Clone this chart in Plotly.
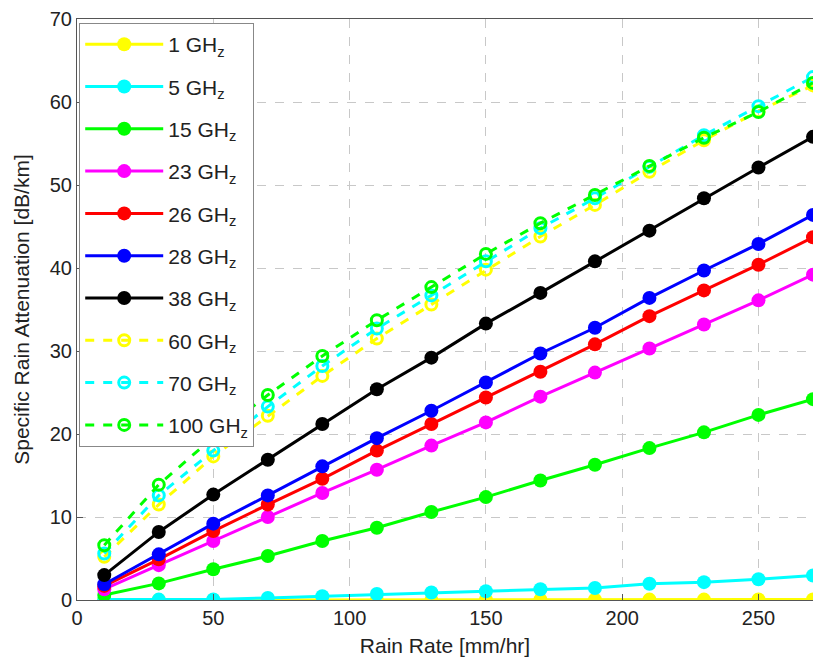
import plotly.graph_objects as go

rain_rate = [10, 30, 50, 70, 90, 110, 130, 150, 170, 190, 210, 230, 250, 270]

att_1ghz = [0.0, 0.0, 0.0, 0.01, 0.01, 0.02, 0.02, 0.03, 0.03, 0.04, 0.05, 0.05, 0.06, 0.07]
att_5ghz = [0.05, 0.05, 0.06, 0.25, 0.45, 0.72, 0.9, 1.05, 1.3, 1.45, 1.95, 2.15, 2.5, 2.95]
att_15ghz = [0.6, 2.0, 3.7, 5.3, 7.1, 8.7, 10.6, 12.4, 14.4, 16.3, 18.3, 20.2, 22.3, 24.2]
att_23ghz = [1.3, 4.2, 7.1, 10.0, 12.9, 15.7, 18.6, 21.4, 24.5, 27.4, 30.3, 33.2, 36.1, 39.2]
att_26ghz = [1.7, 4.9, 8.3, 11.5, 14.6, 18.0, 21.2, 24.4, 27.5, 30.8, 34.2, 37.3, 40.4, 43.7]
att_28ghz = [1.9, 5.5, 9.2, 12.6, 16.1, 19.5, 22.8, 26.2, 29.7, 32.8, 36.4, 39.7, 42.9, 46.4]
att_38ghz = [3.0, 8.2, 12.7, 16.9, 21.2, 25.4, 29.2, 33.3, 37.0, 40.8, 44.5, 48.4, 52.1, 55.8]
att_60ghz = [5.2, 11.5, 17.3, 22.2, 27.0, 31.5, 35.6, 39.8, 43.8, 47.6, 51.6, 55.4, 58.9, 62.0]
att_70ghz = [5.6, 12.6, 18.0, 23.3, 28.2, 32.7, 36.7, 40.8, 44.8, 48.4, 52.2, 56.0, 59.5, 63.0]
att_100ghz = [6.6, 13.9, 19.6, 24.7, 29.4, 33.7, 37.7, 41.7, 45.4, 48.8, 52.3, 55.7, 58.8, 62.3]

series_names = ["1 GH<sub>z</sub>", "5 GH<sub>z</sub>", "15 GH<sub>z</sub>", "23 GH<sub>z</sub>",
                "26 GH<sub>z</sub>", "28 GH<sub>z</sub>", "38 GH<sub>z</sub>", "60 GH<sub>z</sub>",
                "70 GH<sub>z</sub>", "100 GH<sub>z</sub>"]
series_values = [att_1ghz, att_5ghz, att_15ghz, att_23ghz, att_26ghz, att_28ghz, att_38ghz,
                 att_60ghz, att_70ghz, att_100ghz]
series_colors = ["#ffff00", "#00ffff", "#00ff00", "#ff00ff", "#ff0000", "#0000ff", "#000000",
                 "#ffff00", "#00ffff", "#00ff00"]
series_dashed = [False] * 7 + [True] * 3

x_ticks = [0, 50, 100, 150, 200, 250]
y_ticks = [0, 10, 20, 30, 40, 50, 60, 70]

FONT = "Liberation Sans, Arial, sans-serif"
TXT = "#222222"

fig = go.Figure()
for i, (name, vals, col, dashed) in enumerate(zip(series_names, series_values, series_colors, series_dashed)):
    if dashed:
        fig.add_trace(go.Scatter(
            x=rain_rate, y=vals, name=name, mode="lines+markers", legendgroup=f"g{i}",
            line=dict(color=col, width=3, dash="dash"),
            marker=dict(symbol="circle-open", size=11, color=col, line=dict(width=3, color=col)),
        ))
    else:
        fig.add_trace(go.Scatter(
            x=rain_rate, y=vals, name=name, mode="lines+markers", legendgroup=f"g{i}",
            line=dict(color=col, width=3),
            marker=dict(symbol="circle", size=14, color=col),
        ))

axis_common = dict(
    showline=True, linecolor="#555555", linewidth=1, mirror=True,
    showgrid=True, gridcolor="#c8c8c8", griddash="dash", gridwidth=1,
    zeroline=False, ticks="inside", ticklen=6, tickcolor="#555555",
    tickfont=dict(family=FONT, size=20, color=TXT),
)

fig.update_xaxes(range=[0, 270], tickvals=x_ticks,
                 title=dict(text="Rain Rate [mm/hr]", font=dict(family=FONT, size=21, color=TXT), standoff=10),
                 **axis_common)
fig.update_yaxes(range=[0, 70], tickvals=y_ticks,
                 title=dict(text="Specific Rain Attenuation [dB/km]", font=dict(family=FONT, size=21, color=TXT), standoff=14),
                 **axis_common)

fig.update_layout(
    width=813, height=659,
    margin=dict(l=77, r=0, t=19, b=59),
    plot_bgcolor="white", paper_bgcolor="white",
    font=dict(family=FONT, color=TXT),
    legend=dict(x=0.003, y=0.993, xanchor="left", yanchor="top",
                bgcolor="white", bordercolor="#888888", borderwidth=1,
                itemwidth=78, tracegroupgap=12,
                font=dict(family=FONT, size=21, color=TXT)),
    showlegend=True,
)

fig.write_html("out.html", config={"displayModeBar": False},
               post_script="document.body.style.margin='0';document.body.style.overflow='hidden';")
